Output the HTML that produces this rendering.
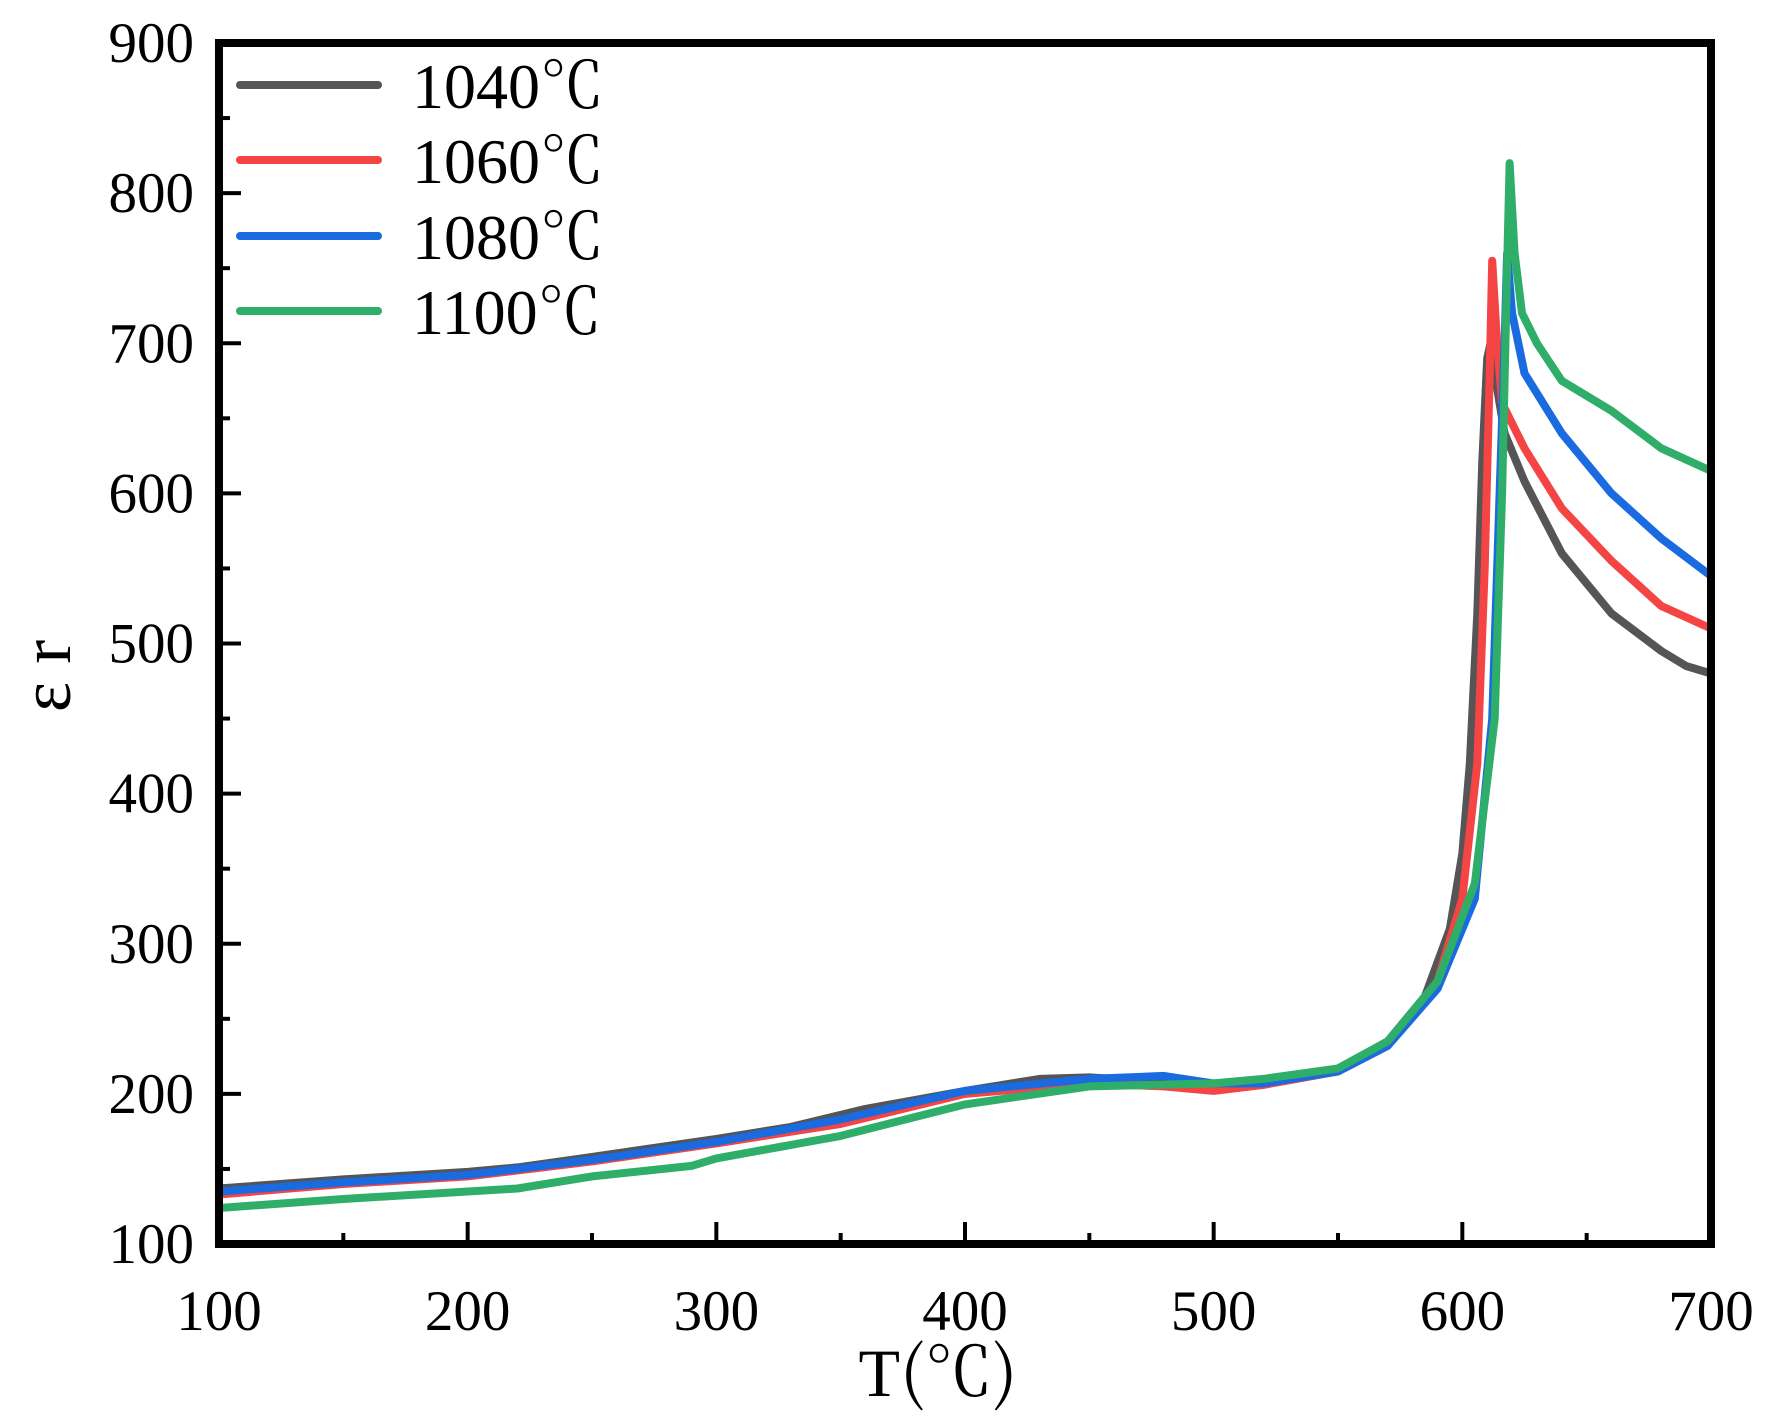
<!DOCTYPE html>
<html><head><meta charset="utf-8"><style>
html,body{margin:0;padding:0;background:#fff;}
svg{display:block;}
text{font-family:"Liberation Serif","Noto Serif CJK SC",serif;fill:#000;}
.c{font-family:"Noto Serif CJK SC","Liberation Serif",serif;}
</style></head><body>
<svg id="s" width="1773" height="1424" viewBox="0 0 1773 1424" xmlns="http://www.w3.org/2000/svg">
<g id="ticks" stroke="#000" stroke-width="4"></g>
<g id="labels" font-size="57"></g>
<g id="curves" fill="none" stroke-width="8" stroke-linejoin="round" stroke-linecap="round"></g>
<rect x="219" y="43" width="1492" height="1201" fill="none" stroke="#000" stroke-width="8"/>
<g stroke-width="8" stroke-linecap="round">
<line x1="240" y1="85" x2="378" y2="85" stroke="#555555"/>
<line x1="240" y1="160" x2="378" y2="160" stroke="#f44444"/>
<line x1="240" y1="236" x2="378" y2="236" stroke="#1a6be0"/>
<line x1="240" y1="311" x2="378" y2="311" stroke="#2fae6a"/>
</g>
<g font-size="64">
<text x="412" y="108">1040<tspan class="c">℃</tspan></text>
<text x="412" y="183">1060<tspan class="c">℃</tspan></text>
<text x="412" y="259">1080<tspan class="c">℃</tspan></text>
<text x="412" y="334">1100<tspan class="c">℃</tspan></text>
</g>
<text x="938" y="1396" font-size="68" text-anchor="middle">T<tspan class="c">(℃)</tspan></text>
<text transform="translate(70,676) rotate(-90)" font-size="72" text-anchor="middle">ε  r</text>
</svg>
<script>
var X=function(v){return 219+(v-100)*1492/600;},Y=function(v){return 1244-(v-100)*1201/800;};
var NS="http://www.w3.org/2000/svg";
function el(p,t,a,txt){var e=document.createElementNS(NS,t);for(var k in a)e.setAttribute(k,a[k]);if(txt)e.textContent=txt;document.getElementById(p).appendChild(e);}
for(var v=100;v<=900;v+=50){var L=(v%100==0)?22:11;el("ticks","line",{x1:219,x2:219+L,y1:Y(v),y2:Y(v)});
 if(v%100==0)el("labels","text",{x:194,y:Y(v)+19,"text-anchor":"end"},String(v));}
for(var v=100;v<=700;v+=50){var L=(v%100==0)?22:11;el("ticks","line",{x1:X(v),x2:X(v),y1:1244,y2:1244-L});
 if(v%100==0)el("labels","text",{x:X(v),y:1330,"text-anchor":"middle"},String(v));}
var D={
"#555555":[[100,137],[150,143],[200,148],[220,151],[250,158],[300,170],[330,178],[360,190],[400,202],[430,210],[450,211],[480,208],[500,204],[520,207],[550,216],[570,235],[585,265],[595,310],[600,360],[603,420],[606,520],[608,620],[610,690],[612,705],[614,670],[617,640],[625,608],[640,560],[660,520],[680,495],[690,485],[700,480]],
"#f44444":[[100,133],[150,140],[200,145],[250,155],[300,167],[350,180],[400,200],[450,207],[480,205],[500,202],[520,206],[550,215],[570,232],[590,275],[600,330],[606,420],[609,550],[611,680],[612,755],[614,700],[616,660],[625,630],[640,590],[660,555],[680,525],[700,510]],
"#1a6be0":[[100,135],[150,141],[200,146],[250,156],[300,168],[350,183],[400,202],[450,210],[480,212],[500,207],[520,207],[550,215],[570,232],[590,270],[605,330],[612,450],[615,600],[617,700],[618,760],[620,720],[625,680],[640,640],[660,600],[680,570],[700,545]],
"#2fae6a":[[100,124],[150,130],[200,135],[220,137],[250,145],[290,152],[300,157],[350,172],[400,193],[450,205],[500,207],[520,210],[550,217],[570,235],[590,275],[605,340],[613,450],[616,600],[618,750],[619,820],[621,760],[624,720],[630,700],[640,675],[660,655],[680,630],[700,615]]};
for(var c in D){var d=D[c].map(function(p,i){return (i?"L":"M")+X(p[0]).toFixed(1)+" "+Y(p[1]).toFixed(1);}).join(" ");el("curves","path",{d:d,stroke:c});}
</script>
</body></html>
